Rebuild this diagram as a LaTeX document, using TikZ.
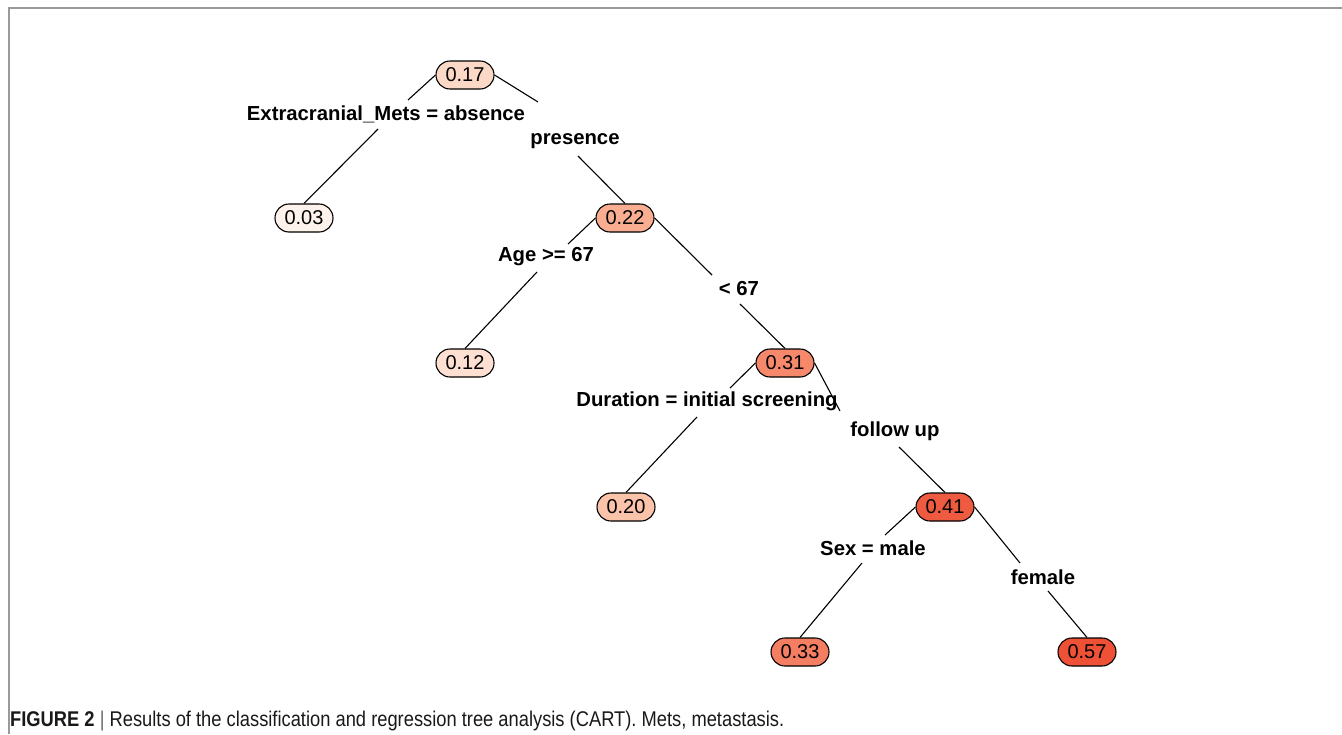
\documentclass[tikz,border=0pt]{standalone}
\usepackage{fontspec}
\setmainfont{Liberation Sans}
\newfontfamily\capfont[FakeStretch=0.86]{Liberation Sans}
\usetikzlibrary{shapes.misc}
\definecolor{cA}{HTML}{FEF3EC}
\definecolor{cB}{HTML}{FDE0D2}
\definecolor{cC}{HTML}{FCD8C6}
\definecolor{cD}{HTML}{FBC3AA}
\definecolor{cE}{HTML}{F9AE91}
\definecolor{cF}{HTML}{F6896B}
\definecolor{cG}{HTML}{F47E61}
\definecolor{cH}{HTML}{EF5B41}
\definecolor{cI}{HTML}{EE5136}
\definecolor{framegray}{HTML}{9A9A9A}
\begin{document}
\begin{tikzpicture}[x=1pt,y=-1pt,
  leaf/.style={draw=black,line width=1.1pt,rounded corners=14pt,minimum width=58pt,minimum height=28pt,inner sep=0pt,
    font=\fontsize{20}{22}\selectfont},
  split/.style={font=\fontsize{20.3}{24}\selectfont\bfseries,inner sep=0pt},
  br/.style={draw=black,line width=1.1pt}]
\useasboundingbox (0,0) rectangle (1342,734);
\draw[framegray,line width=2pt] (9,734) coordinate (fb) -- (9,8) coordinate (fc) -- (1342,8) coordinate (fd);

\node[leaf,fill=cC] (n1) at (465,75) {0.17};
\node[leaf,fill=cA] (n2) at (304,218) {0.03};
\node[leaf,fill=cE] (n3) at (625,218) {0.22};
\node[leaf,fill=cB] (n4) at (465,363) {0.12};
\node[leaf,fill=cF] (n5) at (785,363) {0.31};
\node[leaf,fill=cD] (n6) at (626,507) {0.20};
\node[leaf,fill=cH] (n7) at (945,507) {0.41};
\node[leaf,fill=cG] (n8) at (800,652) {0.33};
\node[leaf,fill=cI] (n9) at (1087,652) {0.57};

\node[split] (l1) at (386,114) {Extracranial\_Mets = absence};
\node[split] (r1) at (575,141) {presence};
\node[split] (l2) at (546,257) {Age >= 67};
\node[split] (r2) at (739,289) {< 67};
\node[split] (l3) at (707,401) {Duration = initial screening};
\node[split] (r3) at (895,431) {follow up};
\node[split] (l4) at (873,548) {Sex = male};
\node[split] (r4) at (1043,577) {female};

\coordinate (a1) at (408,100); \coordinate (a2) at (378,129);
\coordinate (b1) at (538,102); \coordinate (b2) at (578,156);
\coordinate (c1) at (568,244); \coordinate (c2) at (537,272);
\coordinate (d1) at (712,275); \coordinate (d2) at (740,304);
\coordinate (e1) at (730,388); \coordinate (e2) at (697,417);
\coordinate (f1) at (840,411); \coordinate (f2) at (899,447);
\coordinate (g1) at (885,535); \coordinate (g2) at (862,563);
\coordinate (h1) at (1020,563); \coordinate (h2) at (1048,591);

\draw[br] (n1.west) -- (a1);  \draw[br] (a2) -- (n2.north);
\draw[br] (n1.east) -- (b1);  \draw[br] (b2) -- (n3.north);
\draw[br] (n3.west) -- (c1);  \draw[br] (c2) -- (n4.north);
\draw[br] (n3.east) -- (d1);  \draw[br] (d2) -- (n5.north);
\draw[br] (n5.west) -- (e1);  \draw[br] (e2) -- (n6.north);
\draw[br] (n5.east) -- (f1);  \draw[br] (f2) -- (n7.north);
\draw[br] (n7.west) -- (g1);  \draw[br] (g2) -- (n8.north);
\draw[br] (n7.east) -- (h1);  \draw[br] (h2) -- (n9.north);

\node[anchor=base west,inner sep=0pt,font=\capfont\fontsize{21.3}{24}\selectfont,text=black!90] (cap) at (10,726)
  {\textbf{FIGURE 2} \textcolor{black!60}{|} Results of the classification and regression tree analysis (CART). Mets, metastasis.};
\end{tikzpicture}
\end{document}
